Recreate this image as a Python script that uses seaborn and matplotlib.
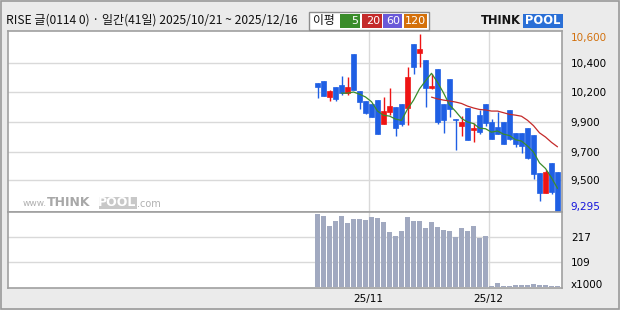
import numpy as np
import pandas as pd
import matplotlib
matplotlib.use("Agg")
import matplotlib.pyplot as plt
import seaborn as sns
from matplotlib.patches import Rectangle

# ---------------- data ----------------
dates = (["2025-10-21", "2025-10-22", "2025-10-23", "2025-10-24", "2025-10-27",
          "2025-10-28", "2025-10-29", "2025-10-30", "2025-10-31"]
         + ["2025-11-%02d" % d for d in [3, 4, 5, 6, 7, 10, 11, 12, 13, 14,
                                          17, 18, 19, 20, 21, 24, 25, 26, 27, 28]]
         + ["2025-12-%02d" % d for d in [1, 2, 3, 4, 5, 8, 9, 10, 11, 12, 15, 16]])
opens = [10236, 10253, 10137, 10209, 10223, 10164, 10452, 10179, 10105, 10083,
         10113, 9938, 10024, 10061, 10083, 10056, 10526, 10460, 10408, 10201,
         10342, 10083, 10268, 9970, 9923, 10056, 9893, 10002, 10083, 9950,
         9913, 9950, 10039, 9871, 9869, 9906, 9854, 9571, 9424, 9645, 9583]
highs = [10236, 10253, 10186, 10209, 10290, 10282, 10452, 10179, 10105, 10083,
         10113, 10135, 10201, 10061, 10083, 10356, 10526, 10600, 10408, 10305,
         10342, 10083, 10268, 9970, 9997, 10056, 9945, 10039, 10083, 9975,
         10026, 9950, 10039, 9871, 9869, 9906, 9854, 9571, 9596, 9645, 9583]
lows = [10130, 10144, 10105, 10107, 10150, 10150, 10186, 10046, 10009, 9989,
        9864, 9938, 10002, 9849, 9923, 9930, 10307, 10358, 10063, 10194,
        9938, 9871, 9989, 9746, 9849, 9819, 9805, 9864, 9923, 9825,
        9864, 9790, 9819, 9768, 9723, 9679, 9529, 9367, 9424, 9420, 9295]
closes = [10211, 10144, 10179, 10120, 10164, 10209, 10186, 10098, 10017, 9989,
          9864, 10031, 10068, 9908, 9938, 10282, 10358, 10489, 10203, 10216,
          9952, 9967, 10048, 9965, 9952, 9819, 9908, 9878, 9945, 9825,
          9864, 9790, 9827, 9790, 9775, 9684, 9564, 9428, 9583, 9431, 9295]
volumes = [320, 311, 268, 289, 311, 281, 298, 298, 294, 307,
           303, 285, 241, 224, 246, 307, 289, 289, 259, 285,
           263, 250, 246, 220, 259, 246, 268, 215, 224, 6,
           19, 6, 6, 10, 10, 10, 14, 10, 10, 6, 6]

price_grid = [10384, 10169, 9952, 9731, 9520]
price_labels = ["10,400", "10,200", "9,900", "9,700", "9,500"]
vol_grid = [217, 109]
vol_labels = ["217", "109"]
ma_periods = [5, 20, 60, 120]
ma_colors = ["#3a8c2a", "#c42a2a", "#6a5ad8", "#d4700a"]
title_text = "RISE 글(0114 0) · 일간(41일) 2025/10/21 ~ 2025/12/16"
legend_title = "이평"

# ---------------- style ----------------
sns.set_theme(style="white")
plt.rcParams["font.family"] = ["DejaVu Sans", "Noto Sans CJK KR"]
KR = ["Noto Sans CJK KR", "DejaVu Sans"]

UP = "#ee1414"
DOWN = "#1f5fe4"
VOLC = "#a1a9c0"
GRID = "#d9d9d9"
FRAME = "#a0a0a0"
BG = "#ebebeb"

W, H = 620, 310
fig = plt.figure(figsize=(W / 100, H / 100), dpi=100, facecolor=BG)


def fx(x):
    return x / W


def fy(y):
    return 1 - y / H


df = pd.DataFrame({"date": pd.to_datetime(dates), "open": opens, "high": highs,
                   "low": lows, "close": closes, "volume": volumes})
df["idx"] = np.arange(len(df))
for p in ma_periods:
    df["ma%d" % p] = df["close"].rolling(p).mean()

# month boundaries (first trading day of each month, drawn at left edge of slot)
month = df["date"].dt.month
first_idx = df.index[month != month.shift(1)][1:]
month_pos = [i - 0.5 for i in first_idx]
month_lab = [df["date"][i].strftime("%y/%m") for i in first_idx]

XL = (-51.67, 40.75)

# ---------------- price panel ----------------
ax = fig.add_axes([fx(7.5), fy(212), (562 - 7.5) / W, (212 - 31) / H])
ax.set_facecolor("white")
for v in price_grid:
    ax.axhline(v, color=GRID, lw=1, zorder=0)
for m in month_pos:
    ax.axvline(m, color=GRID, lw=1, zorder=0)

cols = [UP if c > o else DOWN for o, c in zip(df["open"], df["close"])]
ax.vlines(df["idx"], df["low"], df["high"], colors=cols, lw=1, zorder=2)
ax.bar(df["idx"], (df["close"] - df["open"]).abs(),
       bottom=np.minimum(df["open"], df["close"]), width=0.8,
       color=cols, edgecolor=cols, linewidth=0.5, zorder=3)

for p, c in zip(ma_periods, ma_colors):
    if df["ma%d" % p].notna().any():
        sns.lineplot(data=df, x="idx", y="ma%d" % p, ax=ax, color=c, lw=0.9,
                     zorder=4)

hi = df["high"].max()
lo = df["low"].min()
ax.set_xlim(*XL)
ax.set_ylim(9285.4, 10622.2)
ax.set_xlabel("")
ax.set_ylabel("")
ax.set_xticks([])
ax.yaxis.tick_right()
ax.set_yticks(price_grid)
ax.set_yticklabels(price_labels)
ax.tick_params(axis="y", length=0, pad=6.3, labelsize=7.5, labelcolor="black")
ax.annotate(f"{hi:,}", xy=(1, hi), xycoords=("axes fraction", "data"),
            xytext=(6.3, -3), textcoords="offset points", va="center",
            ha="left", fontsize=7.5, color="#d2710e")
ax.annotate(f"{lo:,}", xy=(1, lo), xycoords=("axes fraction", "data"),
            xytext=(6.3, 3), textcoords="offset points", va="center",
            ha="left", fontsize=7.5, color="#1414dc")
for s in ax.spines.values():
    s.set_color(FRAME)
    s.set_linewidth(1.2)

# watermark
fig.text(fx(23), fy(203.5), "www.", fontsize=6.5, color="#b0b0b0", va="center")
fig.text(fx(47), fy(203), "THINK", fontsize=9, fontweight="bold",
         color="#a8a8a8", va="center")
fig.add_artist(Rectangle((fx(98.5), fy(209)), (137 - 98.5) / W, 12 / H,
                         transform=fig.transFigure, facecolor="#c8c8c8",
                         edgecolor="none"))
fig.text(fx(117.5), fy(203), "POOL", fontsize=9, fontweight="bold",
         color="white", va="center", ha="center")
fig.text(fx(137.5), fy(204), ".com", fontsize=7, color="#b0b0b0", va="center")

# ---------------- volume panel ----------------
axv = fig.add_axes([fx(7.5), fy(288), (562 - 7.5) / W, (288 - 212) / H])
axv.set_facecolor("white")
for v in vol_grid:
    axv.axhline(v, color=GRID, lw=1, zorder=0)
for m in month_pos:
    axv.axvline(m, color=GRID, lw=1, zorder=0)
sns.barplot(data=df, x="idx", y="volume", native_scale=True, color=VOLC,
            saturation=1, width=0.83, errorbar=None, linewidth=0, ax=axv,
            zorder=2)
axv.set_xlim(*XL)
axv.set_ylim(-3, 328)
axv.set_xlabel("")
axv.set_ylabel("")
axv.yaxis.tick_right()
axv.set_yticks(vol_grid)
axv.set_yticklabels(vol_labels)
axv.set_xticks(month_pos)
axv.set_xticklabels(month_lab)
axv.tick_params(axis="y", length=0, pad=6.3, labelsize=7.5, labelcolor="black")
axv.tick_params(axis="x", length=0, pad=4.5, labelsize=7.5, labelcolor="black")
axv.annotate("x1000", xy=(1, 0), xycoords="axes fraction", xytext=(6.3, 2.5),
             textcoords="offset points", va="center", ha="left", fontsize=7.5,
             color="black")
for s in axv.spines.values():
    s.set_color(FRAME)
    s.set_linewidth(1.2)

# ---------------- header ----------------
fig.text(fx(6), fy(20.5), title_text, fontsize=8.7, family=KR, va="center",
         ha="left", color="#111111")

fig.add_artist(Rectangle((fx(309), fy(30)), (429 - 309) / W, 18 / H,
                         transform=fig.transFigure, facecolor="white",
                         edgecolor="#8c8c8c", lw=1))
fig.text(fx(313), fy(20.5), legend_title, fontsize=8.5, family=KR,
         va="center", ha="left", color="#111111")
boxes = [(340, 360), (362, 382), (383, 402), (404, 427)]
for (x0, x1), p, c in zip(boxes, ma_periods, ma_colors):
    fig.add_artist(Rectangle((fx(x0), fy(28)), (x1 - x0) / W, 14 / H,
                             transform=fig.transFigure, facecolor=c,
                             edgecolor="none"))
    fig.text(fx(x1 - 1.5), fy(21), str(p), fontsize=8, color="white",
             va="center", ha="right")

# logo
fig.text(fx(481), fy(21), "THINK", fontsize=8.3, fontweight="bold",
         color="#151515", va="center", ha="left")
fig.add_artist(Rectangle((fx(523), fy(28)), (563 - 523) / W, 14 / H,
                         transform=fig.transFigure, facecolor="#2a6fd6",
                         edgecolor="none"))
fig.text(fx(543), fy(21), "POOL", fontsize=8.3, fontweight="bold",
         color="white", va="center", ha="center")

# outer frame
fig.add_artist(Rectangle((fx(1), fy(309)), 618 / W, 308 / H,
                         transform=fig.transFigure, facecolor="none",
                         edgecolor="#9a9a9a", lw=1.2))

fig.savefig("out.png", dpi=100, facecolor=BG)
